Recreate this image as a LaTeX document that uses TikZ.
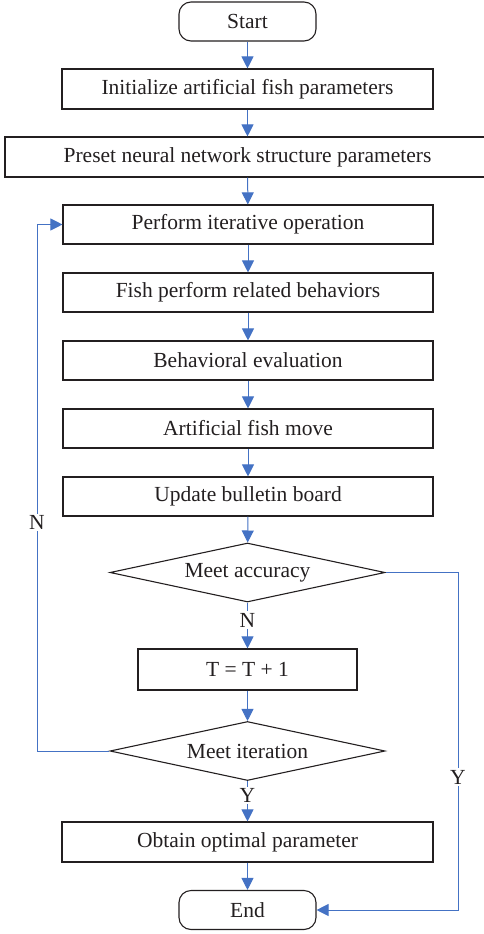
\documentclass[tikz,border=0pt]{standalone}
\usepackage{fontspec}
\setmainfont{Liberation Serif}
\usetikzlibrary{shapes.geometric,arrows.meta}
\definecolor{flowblue}{RGB}{68,114,196}
\definecolor{ink}{RGB}{35,31,32}
\tikzset{
  base/.style={draw=ink, line width=1.1pt, text=ink, font=\fontsize{21.5}{24}\selectfont, inner sep=0pt},
  procbox/.style={base, rectangle, minimum height=40pt},
  termbox/.style={base, rectangle, rounded corners=12pt, minimum width=137pt, minimum height=39pt},
  decbox/.style={base, diamond, aspect=4.66, minimum width=275pt, minimum height=59pt},
  conn/.style={draw=flowblue, line width=1pt, -{Triangle[width=12pt,length=12pt]}},
  lbl/.style={fill=white, text=ink, font=\fontsize{21.5}{24}\selectfont, inner sep=1.5pt}
}
\begin{document}
\begin{tikzpicture}[x=1pt,y=-1pt]
\useasboundingbox (0,0) rectangle (484,934);
\node[termbox] (start) at (247.5,21.5) {Start};
\node[procbox, minimum width=371pt] (init) at (247.5,89) {Initialize artificial fish parameters};
\node[procbox, minimum width=485pt] (preset) at (247.5,157) {Preset neural network structure parameters};
\node[procbox, minimum width=370pt, minimum height=39pt] (perf) at (248,224.5) {Perform iterative operation};
\node[procbox, minimum width=370pt, minimum height=39pt] (fish) at (248,292.5) {Fish perform related behaviors};
\node[procbox, minimum width=370pt, minimum height=39pt] (eval) at (248,360.5) {Behavioral evaluation};
\node[procbox, minimum width=370pt, minimum height=39pt] (move) at (248,428.5) {Artificial fish move};
\node[procbox, minimum width=370pt, minimum height=39pt] (board) at (248,496.5) {Update bulletin board};
\node[decbox] (acc) at (247.5,572.5) {Meet accuracy};
\node[procbox, minimum width=219pt, minimum height=41pt] (tinc) at (247.5,669.5) {T = T + 1};
\node[decbox] (iter) at (247.5,751) {Meet iteration};
\node[procbox, minimum width=371pt] (opt) at (247.5,842) {Obtain optimal parameter};
\node[termbox] (end) at (247.5,910) {End};

\coordinate (lc) at (37,751);
\coordinate (rc) at (458,572.5);

\path[conn] (start) -- (init);
\path[conn] (init) -- (preset);
\path[conn] (preset) -- (perf);
\path[conn] (perf) -- (fish);
\path[conn] (fish) -- (eval);
\path[conn] (eval) -- (move);
\path[conn] (move) -- (board);
\path[conn] (board) -- (acc);
\path[conn] (acc) -- node[lbl, pos=0.38] (n1) {N} (tinc);
\path[conn] (tinc) -- (iter);
\path[conn] (iter) -- node[lbl, pos=0.35] (y1) {Y} (opt);
\path[conn] (opt) -- (end);
\path[conn] (iter.west) -- (lc) |- node[lbl, pos=0.217] (n2) {N} (perf.west);
\path[conn] (acc.east) -- (rc) |- node[lbl, pos=0.303] (y2) {Y} (end.east);
\end{tikzpicture}
\end{document}
